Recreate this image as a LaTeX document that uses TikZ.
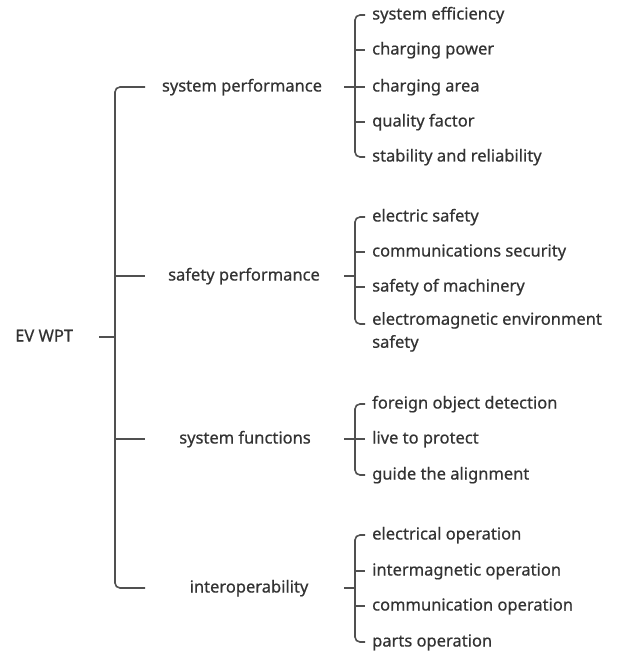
\documentclass[tikz,border=0pt]{standalone}
\usepackage{fontspec}
\setmainfont{Noto Sans}[FakeBold=0.6]
\definecolor{linegray}{HTML}{505050}
\definecolor{textgray}{HTML}{333333}
\newcommand{\lbl}{\fontsize{16.5}{23}\selectfont}

\begin{document}
\begin{tikzpicture}[x=1pt,y=-1pt,
  txt/.style={font=\lbl, text=textgray, inner sep=0pt, text height=12pt, text depth=3pt},
  leaf/.style={txt, anchor=west},
  leafml/.style={font=\lbl, text=textgray, inner sep=0pt, align=left, anchor=north west},
  stub/.style={draw=linegray, line width=1.6pt},
  bracketline/.style={stub, rounded corners=5pt}]
  \useasboundingbox (0,0) rectangle (619,652);

  \coordinate (bar1) at (115,0);   % main bracket
  \coordinate (end1) at (145,0);
  \coordinate (start2) at (344,0); % sub brackets
  \coordinate (bar2) at (355,0);

  \node[txt, anchor=west] (ev) at (15,337) {EV WPT};  % root

  \node[txt] (sp) at (242,87)  {system performance};
  \node[txt] (sa) at (244,276) {safety performance};
  \node[txt] (sf) at (245,439) {system functions};
  \node[txt] (io) at (249,588) {interoperability};

  \draw[stub] ([xshift=26pt]ev.east) -- (ev -| bar1);
  \draw[bracketline] (sp -| end1) -- (sp -| bar1) -- (io -| bar1) -- (io -| end1);
  \draw[stub] (sa -| bar1) -- (sa -| end1);
  \draw[stub] (sf -| bar1) -- (sf -| end1);

  % system performance
  \node[leaf] (se) at (372,15)  {system efficiency};
  \node[leaf] (cp) at (372,50)  {charging power};
  \node[leaf] (ca) at (372,87)  {charging area};
  \node[leaf] (qf) at (372,122) {quality factor};
  \node[leaf] (sr) at (372,157) {stability and reliability};
  \draw[stub] (sp -| start2) -- (sp -| bar2);
  \draw[bracketline] ([xshift=-7pt]se.west) -- (se.west -| bar2) -- (sr.west -| bar2) -- ([xshift=-7pt]sr.west);
  \foreach \n in {cp,ca,qf}
    \draw[stub] (\n.west -| bar2) -- ([xshift=-7pt]\n.west);

  % safety performance
  \node[leaf] (es) at (372,217) {electric safety};
  \node[leaf] (cs) at (372,252) {communications security};
  \node[leaf] (sm) at (372,287) {safety of machinery};
  \node[leafml] (ee) at (372,312) {electromagnetic environment\\safety};
  \draw[stub] (sa -| start2) -- (sa -| bar2);
  \draw[bracketline] ([xshift=-7pt]es.west) -- (es.west -| bar2) -- ([yshift=-12pt]ee.north west -| bar2) -- ([xshift=-7pt,yshift=-12pt]ee.north west);
  \foreach \n in {cs,sm}
    \draw[stub] (\n.west -| bar2) -- ([xshift=-7pt]\n.west);

  % system functions
  \node[leaf] (fo) at (372,404) {foreign object detection};
  \node[leaf] (lp) at (372,439) {live to protect};
  \node[leaf] (ga) at (372,475) {guide the alignment};
  \draw[stub] (sf -| start2) -- (sf -| bar2);
  \draw[bracketline] ([xshift=-7pt]fo.west) -- (fo.west -| bar2) -- (ga.west -| bar2) -- ([xshift=-7pt]ga.west);
  \draw[stub] (lp.west -| bar2) -- ([xshift=-7pt]lp.west);

  % interoperability
  \node[leaf] (eo) at (372,535) {electrical operation};
  \node[leaf] (im) at (372,571) {intermagnetic operation};
  \node[leaf] (co) at (372,606) {communication operation};
  \node[leaf] (po) at (372,642) {parts operation};
  \draw[stub] (io -| start2) -- (io -| bar2);
  \draw[bracketline] ([xshift=-7pt]eo.west) -- (eo.west -| bar2) -- (po.west -| bar2) -- ([xshift=-7pt]po.west);
  \foreach \n in {im,co}
    \draw[stub] (\n.west -| bar2) -- ([xshift=-7pt]\n.west);
\end{tikzpicture}
\end{document}
